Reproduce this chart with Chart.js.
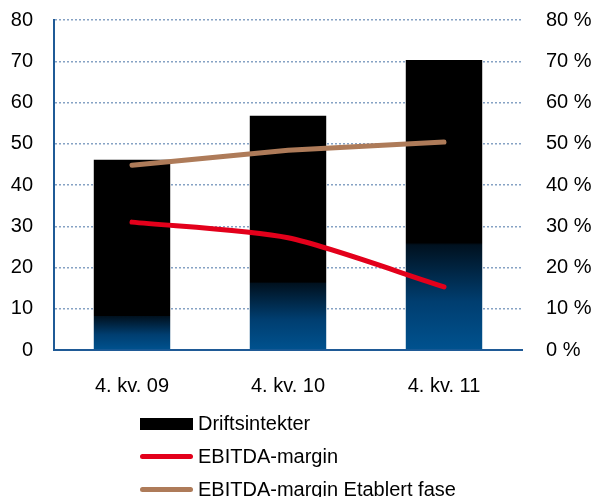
<!DOCTYPE html>
<html>
<head>
<meta charset="utf-8">
<script src="https://cdn.jsdelivr.net/npm/chart.js@4.4.0/dist/chart.umd.min.js"></script>
<style>
  body { margin: 0; background: #fff; }
  #wrap { position: relative; width: 597px; height: 497px; }
  #legend { position: absolute; left: 140px; top: 407px; font: 20px "Liberation Sans", Arial, sans-serif; color: #000; }
  .item { display: flex; align-items: center; height: 33px; }
  .swatch { width: 53px; margin-right: 5px; }
</style>
</head>
<body>
<div id="wrap">
  <canvas id="chart" width="597" height="497"></canvas>
  <div id="legend"></div>
</div>
<script>
// chart data
const categories = ['4. kv. 09', '4. kv. 10', '4. kv. 11'];
const driftsintekter = [46.1, 56.8, 70.3];
const ebitdaMargin = [31.0, 27.2, 15.3];
const ebitdaEtablert = [44.8, 48.4, 50.4];
const leftTicks = [0, 10, 20, 30, 40, 50, 60, 70, 80];

// style: where the blue gradient ends inside each bar (fraction of bar height)
const blueFraction = [0.18, 0.29, 0.37];

const font = { family: '"Liberation Sans", Arial, sans-serif', size: 20 };

function barFill(context) {
  const chart = context.chart;
  if (!chart.chartArea) return '#000';
  const y = chart.scales.y;
  const base = y.getPixelForValue(0);
  const top = y.getPixelForValue(context.raw);
  const f = blueFraction[context.dataIndex];
  const g = chart.ctx.createLinearGradient(0, base, 0, top);
  g.addColorStop(0, '#00528f');
  g.addColorStop(f * 0.45, '#003e70');
  g.addColorStop(f * 0.98, '#00111f');
  g.addColorStop(f, '#000');
  g.addColorStop(1, '#000');
  return g;
}

const datasets = [
  {
    type: 'bar', label: 'Driftsintekter', data: driftsintekter, yAxisID: 'y',
    backgroundColor: barFill, legendColor: '#000',
    categoryPercentage: 1, barPercentage: 0.49, order: 3
  },
  {
    type: 'line', label: 'EBITDA-margin', data: ebitdaMargin, yAxisID: 'y2',
    borderColor: '#e3001b', borderWidth: 5, pointRadius: 0, tension: 0.25,
    borderCapStyle: 'round', order: 1
  },
  {
    type: 'line', label: 'EBITDA-margin Etablert fase', data: ebitdaEtablert, yAxisID: 'y2',
    borderColor: '#ae7b59', borderWidth: 5, pointRadius: 0, tension: 0,
    borderCapStyle: 'round', order: 2
  }
];

function fixVertical(width) {
  return s => { s.width = width; s.paddingTop = 0; s.paddingBottom = 0; };
}

new Chart(document.getElementById('chart'), {
  data: { labels: categories, datasets: datasets },
  options: {
    responsive: false,
    animation: false,
    layout: { padding: { top: 20, bottom: 100, left: 0, right: 0 } },
    plugins: { legend: { display: false }, tooltip: { enabled: false } },
    scales: {
      x: {
        grid: { display: false },
        border: { display: true, color: '#1f5a96', width: 2 },
        ticks: { color: '#000', font: font, padding: 16 },
        afterFit: s => { s.height = 47; s.paddingLeft = 0; s.paddingRight = 0; }
      },
      y: {
        position: 'left', min: 0, max: 80,
        afterBuildTicks: s => { s.ticks = leftTicks.map(v => ({ value: v })); },
        grid: {
          color: ctx => ctx.tick && ctx.tick.value === 0 ? 'rgba(0,0,0,0)' : '#86a2c4',
          lineWidth: 1.5, drawTicks: false
        },
        border: { display: true, color: '#1f5a96', width: 2, dash: [2, 2] },
        ticks: { color: '#000', font: font, padding: 21 },
        afterFit: fixVertical(54)
      },
      y2: {
        position: 'right', min: 0, max: 80,
        afterBuildTicks: s => { s.ticks = leftTicks.map(v => ({ value: v })); },
        grid: { display: false, drawTicks: false },
        border: { display: false },
        ticks: { color: '#000', font: font, padding: 24, callback: v => v + ' %' },
        afterFit: fixVertical(75)
      }
    }
  }
});

// legend
const legend = document.getElementById('legend');
datasets.forEach(ds => {
  const item = document.createElement('div');
  item.className = 'item';
  const sw = document.createElement('div');
  sw.className = 'swatch';
  if (ds.type === 'bar') {
    sw.style.height = '12px';
    sw.style.background = ds.legendColor;
  } else {
    sw.style.height = '5px';
    sw.style.borderRadius = '3px';
    sw.style.background = ds.borderColor;
  }
  const label = document.createElement('span');
  label.textContent = ds.label;
  item.appendChild(sw);
  item.appendChild(label);
  legend.appendChild(item);
});
</script>
</body>
</html>
